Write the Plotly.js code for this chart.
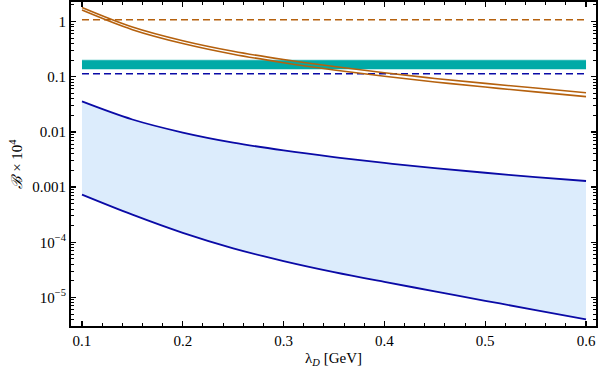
<!DOCTYPE html>
<html>
<head>
<meta charset="utf-8">
<script src="https://cdn.plot.ly/plotly-3.0.1.min.js"></script>
<style>
  html, body { margin: 0; padding: 0; background: #fff; }
  #plot { width: 600px; height: 378px; }
</style>
</head>
<body>
<div id="plot"></div>
<script>
// lambda_D grid [GeV]
const lambdaD = [0.1, 0.15, 0.2, 0.25, 0.3, 0.35, 0.4, 0.45, 0.5, 0.55, 0.6]

// B x 10^4
const orangeUpper = [1.807, 0.800, 0.451, 0.290, 0.205, 0.153, 0.118, 0.0931, 0.0757, 0.0624, 0.0514]
const orangeLower = [1.618, 0.713, 0.400, 0.256, 0.180, 0.133, 0.102, 0.0804, 0.0650, 0.0531, 0.0436]
const blueUpper = [0.0357, 0.0168, 0.00975, 0.0064, 0.00462, 0.0035, 0.00274, 0.00221, 0.00182, 0.00152, 0.00129]
const blueLower = [7.3e-4, 3.16e-4, 1.48e-4, 7.76e-5, 4.57e-5, 2.88e-5, 1.91e-5, 1.29e-5, 8.7e-6, 5.9e-6, 4.0e-6]

// horizontal references
const bandX = [0.1, 0.6]
const tealLow = 0.138
const tealHigh = 0.2
const orangeRef = 1.08
const blueRef = 0.113

const yTickVals = [1e-5, 1e-4, 1e-3, 1e-2, 0.1, 1]
const yTickText = ['10<sup>\u22125</sup>', '10<sup>\u22124</sup>', '0.001', '0.01', '0.1', '1']
const xTickVals = [0.1, 0.2, 0.3, 0.4, 0.5, 0.6]

const ORANGE = '#b5610e'
const BLUE = '#0a0aa6'
const TEAL = '#00aaa7'
const SERIF = 'Liberation Serif'

const flat = v => bandX.map(() => v)

let data = [
  {
    x: lambdaD, y: blueLower, mode: 'lines',
    line: { color: BLUE, width: 1.8, shape: 'spline' },
  },
  {
    x: lambdaD, y: blueUpper, mode: 'lines', fill: 'tonexty', fillcolor: '#dcecfc',
    line: { color: BLUE, width: 1.8, shape: 'spline' },
  },
  {
    x: bandX, y: flat(tealLow), mode: 'lines',
    line: { color: TEAL, width: 0.5 },
  },
  {
    x: bandX, y: flat(tealHigh), mode: 'lines', fill: 'tonexty', fillcolor: TEAL,
    line: { color: TEAL, width: 0.5 },
  },
  {
    x: bandX, y: flat(blueRef), mode: 'lines',
    line: { color: BLUE, width: 1.6, dash: '7px,4px' },
  },
  {
    x: bandX, y: flat(orangeRef), mode: 'lines',
    line: { color: ORANGE, width: 1.6, dash: '7px,4px' },
  },
  {
    x: lambdaD, y: orangeUpper, mode: 'lines',
    line: { color: ORANGE, width: 1.6, shape: 'spline' },
  },
  {
    x: lambdaD, y: orangeLower, mode: 'lines',
    line: { color: ORANGE, width: 1.6, shape: 'spline' },
  },
]

const axisCommon = {
  showline: true, linecolor: '#000', linewidth: 2, mirror: 'allticks',
  ticks: 'inside', tickcolor: '#000', tickwidth: 1.2, ticklen: 5,
  showgrid: false, zeroline: false,
  tickfont: { family: SERIF, size: 15, color: '#000' },
}

let layout = {
  width: 600, height: 378,
  margin: { l: 71, r: 4, t: 2, b: 52 },
  paper_bgcolor: '#fff', plot_bgcolor: '#fff',
  showlegend: false,
  xaxis: Object.assign({}, axisCommon, {
    range: [0.0891, 0.6099],
    tickvals: xTickVals, ticktext: xTickVals.map(v => v.toFixed(1)),
    minor: { ticks: 'inside', ticklen: 3, tickcolor: '#000', tickwidth: 1, dtick: 0.02, tick0: 0.1 },
    title: { text: '\u03bb<sub><i>D</i></sub> [GeV]', font: { family: SERIF, size: 15, color: '#000' }, standoff: 4 },
  }),
  yaxis: Object.assign({}, axisCommon, {
    type: 'log', range: [-5.518, 0.355],
    tickvals: yTickVals, ticktext: yTickText,
    minor: { ticks: 'inside', ticklen: 3, tickcolor: '#000', tickwidth: 1, dtick: 'D1' },
    title: { text: '<i>\u212c</i> \u00d7 10<sup>4</sup>', font: { family: SERIF, size: 15, color: '#000' }, standoff: 6 },
  }),
}

Plotly.newPlot('plot', data, layout, { staticPlot: true })
</script>
</body>
</html>
